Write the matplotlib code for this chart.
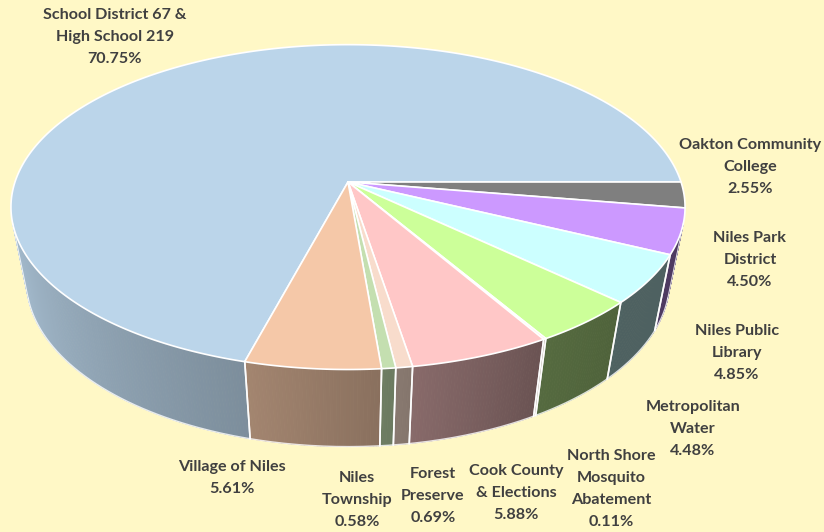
import numpy as np
import matplotlib.pyplot as plt
from matplotlib.patches import Polygon
from matplotlib.colors import to_rgb

# tax share by taxing body (percent)
bodies = ["School District 67 &\nHigh School 219", "Oakton Community\nCollege",
          "Niles Park\nDistrict", "Niles Public\nLibrary", "Metropolitan\nWater",
          "North Shore\nMosquito\nAbatement", "Cook County\n& Elections",
          "Forest\nPreserve", "Niles\nTownship", "Village of Niles"]
shares = [70.75, 2.55, 4.50, 4.85, 4.48, 0.11, 5.88, 0.69, 0.58, 5.61]
colors = ["#BBD5EA", "#7F7F7F", "#CC99FF", "#CCFFFF", "#CCFF99",
          "#FFCC99", "#FFC7C7", "#F8DCCC", "#C4DFB0", "#F5C8A8"]

# label anchors (pixel coords)
label_pos = [(115, 37), (750, 167), (750, 260), (737, 353), (693, 429),
             (611, 489), (516, 493), (433, 496), (357, 500), (232, 478)]

bg = "#FFF8C6"
plt.rcParams['font.family'] = ['Lato', 'DejaVu Sans']

# perspective camera for the 3d pie
cx, cy = 348, 182
Fx, Fy = 1695, 1305
L, pitch = 5.09, np.radians(38.2)
sp, cp = np.sin(pitch), np.cos(pitch)
thick = 0.385

def proj(th, y=0.0):
    x, z = np.cos(th), np.sin(th)
    depth = L - y * sp + z * cp
    px = cx + Fx * x / depth
    py = cy - Fy * (y * cp + z * sp) / depth
    return px, py

def shade(deg):
    return np.interp(deg, [-170, -105, -85, -60, -40, -10],
                     [0.90, 0.665, 0.56, 0.42, 0.38, 0.38])

fig = plt.figure(figsize=(8.24, 5.32), dpi=100)
fig.patch.set_facecolor(bg)
ax = fig.add_axes([0, 0, 1, 1])
ax.set_xlim(0, 824)
ax.set_ylim(532, 0)
ax.axis('off')
ax.set_facecolor(bg)

# slice angles, clockwise from the first slice
start = 3.6 * shares[0]
cum = np.concatenate([[0], np.cumsum(shares)]) * 3.6
spans = [(start - cum[i + 1], start - cum[i]) for i in range(len(shares))]
# visible part of the side wall (front, perspective)
vis_lo = -180 + np.degrees(np.arcsin(1 / (L * cp)))
vis_hi = -np.degrees(np.arcsin(1 / (L * cp)))

# side walls
for (a1, a2), col in zip(spans, colors):
    lo, hi = a1, a2
    if hi > 0:
        lo, hi = lo - 360, hi - 360
    lo, hi = max(lo, vis_lo), min(hi, vis_hi)
    if lo >= hi:
        continue
    n = max(2, int((hi - lo) / 0.5) + 1)
    ths = np.linspace(lo, hi, n)
    base = np.array(to_rgb(col))
    for k in range(n - 1):
        t0, t1 = np.radians(ths[k]), np.radians(ths[k + 1])
        xa, ya = proj(t0)
        xb, yb = proj(t1)
        xc, yc = proj(t1, -thick)
        xd, yd = proj(t0, -thick)
        c = np.clip(base * shade(0.5 * (ths[k] + ths[k + 1])), 0, 1)
        ax.add_patch(Polygon([(xa, ya), (xb, yb), (xc, yc), (xd, yd)],
                             closed=True, facecolor=c, edgecolor=c, lw=0.6))
    # white seams between wall segments
    for e in (lo, hi):
        if vis_lo < e < vis_hi:
            xa, ya = proj(np.radians(e))
            xd, yd = proj(np.radians(e), -thick)
            ax.plot([xa, xd], [ya, yd], color="white", lw=1.2, alpha=0.9)

# bottom outline of the wall
ths = np.radians(np.linspace(vis_lo, vis_hi, 300))
bx, by = proj(ths, -thick)
ax.plot(bx, by, color="white", lw=1.0, alpha=0.8)
for e in (vis_lo, vis_hi):
    xa, ya = proj(np.radians(e))
    xd, yd = proj(np.radians(e), -thick)
    ax.plot([xa, xd], [ya, yd], color="white", lw=0.8, alpha=0.8)

# top faces
for (a1, a2), col in zip(spans, colors):
    n = max(2, int((a2 - a1) / 0.5) + 1)
    ths = np.radians(np.linspace(a1, a2, n))
    px, py = proj(ths)
    pts = [(cx, cy)] + list(zip(px, py))
    ax.add_patch(Polygon(pts, closed=True, facecolor=col,
                         edgecolor="white", lw=1.2, joinstyle='round'))

# data labels
for name, val, (lx, ly) in zip(bodies, shares, label_pos):
    ax.text(lx, ly, f"{name}\n{val:.2f}%", ha="center", va="center",
            fontsize=11.6, fontweight="bold", color="#404040",
            linespacing=1.75)

fig.savefig("out.png", dpi=100, facecolor=bg)
